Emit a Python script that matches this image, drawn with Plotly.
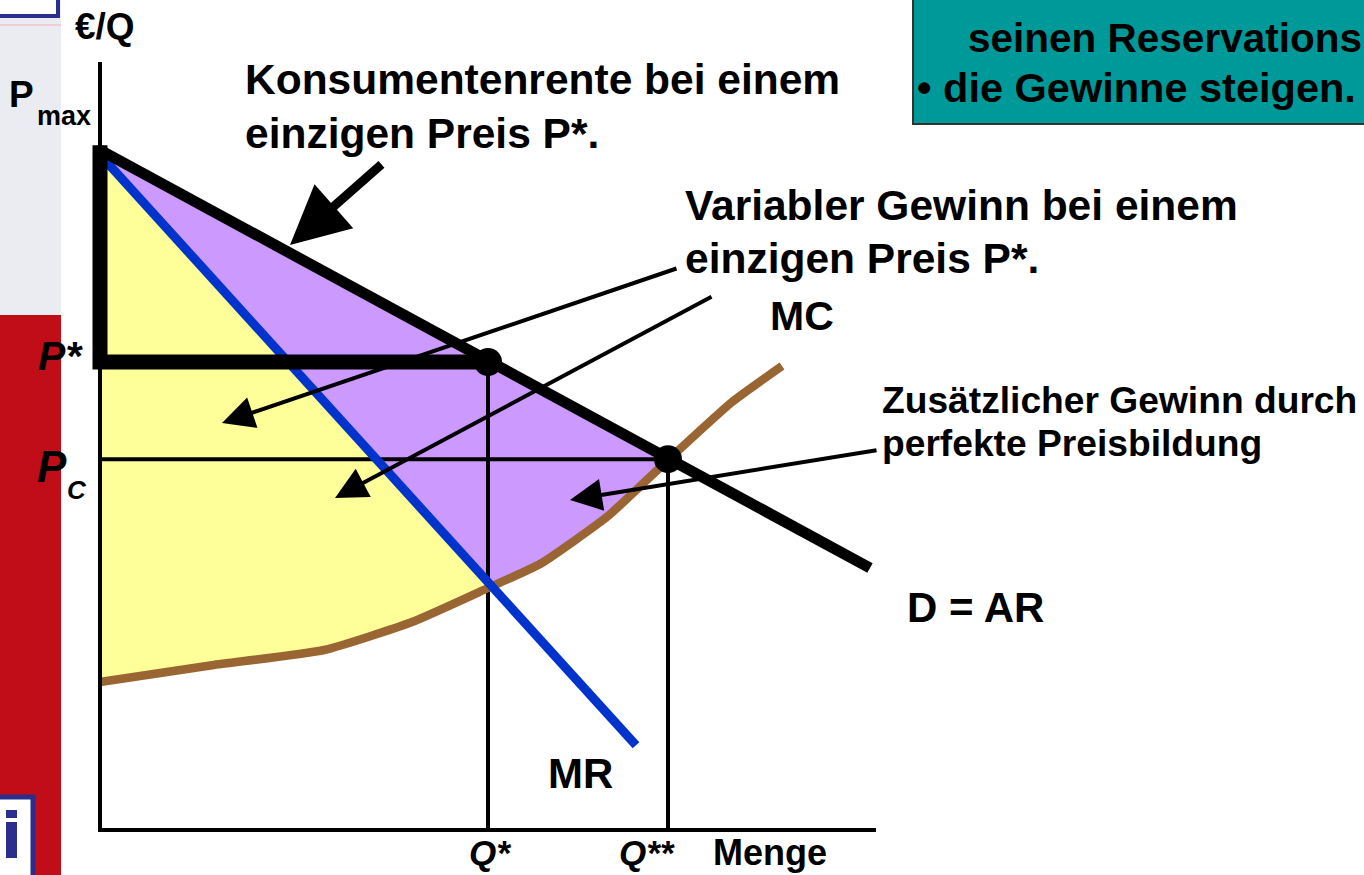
import numpy as np
import plotly.graph_objects as go

W, H = 1364, 875

# ---------------- data (economic units) ----------------
P_MAX = 17.0
DEMAND_Q = [0.0, 19.25]
DEMAND_P = [17.0, 6.55]
MR_Q = [0.12, 13.4]
MR_P = [16.75, 2.12]
MC_Q = [0.0, 2.8, 5.6, 7.8, 9.7, 11.0, 12.7, 14.2, 15.8, 17.05]
MC_P = [3.7, 4.12, 4.5, 5.2, 6.05, 6.65, 7.85, 9.25, 10.7, 11.6]
Q_STAR, P_STAR = 9.7, 11.7
Q_SS, P_C = 14.2, 9.27
AXIS_QMAX, AXIS_PMAX = 19.4, 19.2

PRICE_LABELS = ["P", "max", "<i>P*</i>", "<i>P</i>", "<i>C</i>"]
QTY_LABELS = ["<i>Q*</i>", "<i>Q**</i>", "Menge"]
AXIS_TITLE = "€/Q"
CURVE_LABELS = ["MC", "D = AR", "MR"]
NOTE_CS = ["Konsumentenrente bei einem", "einzigen Preis P*."]
NOTE_VG = ["Variabler Gewinn bei einem", "einzigen Preis P*."]
NOTE_ZG = ["Zusätzlicher Gewinn durch", "perfekte Preisbildung"]
BOX_LINES = ["seinen Reservations", "• die Gewinne steigen."]

FONT = "Arial, Liberation Sans, sans-serif"
YELLOW, PURPLE = "#FFFF99", "#CC99FF"
BLUE, BROWN = "#0033CC", "#996633"

# ---------------- geometry derived from data ----------------
q = np.linspace(MR_Q[0], MR_Q[1], 4000)
mr_line = np.interp(q, MR_Q, MR_P)
mc_line = np.interp(q, MC_Q, MC_P)
k = int(np.argmin(np.abs(mr_line - mc_line)))
q_int, p_int = q[k], mr_line[k]

mc_q = np.array(MC_Q)
mc_p = np.array(MC_P)
mid = (mc_q > q_int) & (mc_q < Q_SS)
low = mc_q < q_int

purple_x = [DEMAND_Q[0], Q_SS] + list(mc_q[mid][::-1]) + [q_int, MR_Q[0], DEMAND_Q[0]]
purple_y = [DEMAND_P[0], P_C] + list(mc_p[mid][::-1]) + [p_int, MR_P[0], DEMAND_P[0]]
yellow_x = [0, MR_Q[0], q_int] + list(mc_q[low][::-1]) + [0]
yellow_y = [MR_P[0], MR_P[0], p_int] + list(mc_p[low][::-1]) + [MR_P[0]]

fig = go.Figure()


def line(x, y, color, width, shape="linear", smoothing=None):
    ln = dict(color=color, width=width, shape=shape)
    if smoothing is not None:
        ln["smoothing"] = smoothing
    fig.add_trace(go.Scatter(x=x, y=y, mode="lines", hoverinfo="skip", line=ln))


fig.add_trace(go.Scatter(x=yellow_x, y=yellow_y, fill="toself", fillcolor=YELLOW,
                         mode="lines", line=dict(width=0), hoverinfo="skip"))
fig.add_trace(go.Scatter(x=purple_x, y=purple_y, fill="toself", fillcolor=PURPLE,
                         mode="lines", line=dict(width=0), hoverinfo="skip"))

# thin guide lines
line([0, Q_SS], [P_C, P_C], "black", 4)
line([Q_STAR, Q_STAR], [P_STAR, 0], "black", 4)
line([Q_SS, Q_SS], [P_C, 0], "black", 4)

# curves
line(MC_Q, MC_P, BROWN, 8.5, "spline", 0.5)
line(MR_Q, MR_P, BLUE, 9)
line(DEMAND_Q, DEMAND_P, "black", 11)

# thick outline of consumer surplus at single price
line([Q_STAR, 0, 0], [P_STAR, P_STAR, P_MAX + 0.12], "black", 15)

# axes
line([0, 0, AXIS_QMAX], [AXIS_PMAX, 0, 0], "black", 4)

# equilibrium points
fig.add_trace(go.Scatter(x=[Q_STAR, Q_SS], y=[P_STAR, P_C], mode="markers",
                         marker=dict(color="black", size=28), hoverinfo="skip"))


# ---------------- layout helpers ----------------
def px(x):
    return x / W


def py(y):
    return 1 - y / H


ann = []


def text(t, x, y, size, xanchor="left", color="black", bold=True):
    ann.append(dict(text=f"<b>{t}</b>" if bold else t, x=px(x), y=py(y), xref="paper", yref="paper",
                    xanchor=xanchor, yanchor="middle", showarrow=False,
                    font=dict(family=FONT, size=size, color=color)))


def arrow(tail, tip, width, size):
    ann.append(dict(x=px(tip[0]), y=py(tip[1]), xref="paper", yref="paper",
                    ax=tail[0] - tip[0], ay=tail[1] - tip[1], axref="pixel", ayref="pixel",
                    showarrow=True, arrowhead=2, arrowwidth=width, arrowsize=size,
                    arrowcolor="black", text=""))


shapes = []


def rect(x0, y0, x1, y1, fill, lc=None, lw=0):
    shapes.append(dict(type="rect", xref="paper", yref="paper", x0=px(x0), x1=px(x1),
                       y0=py(y1), y1=py(y0), fillcolor=fill, layer="below",
                       line=dict(color=lc or fill, width=lw)))


# background slide elements
rect(-5, -5, 61, 316, "#EBEBF2")
rect(-5, 315, 61, 880, "#C10D18")
rect(0, 24, 61, 26, "#F2CCD4")
rect(-6, -6, 58, 16, "white", "#2B2E8C", 4)
rect(-6, 797, 33, 885, "white", "#2B2E8C", 5)
rect(6, 810, 17, 818, "#2B2E8C")
rect(6, 822, 17, 858, "#2B2E8C")
rect(913, -6, 1370, 124, "#009999", "#333333", 2)

# texts
text(AXIS_TITLE, 73, 27, 37)
text(PRICE_LABELS[0], 7, 95, 37)
text(PRICE_LABELS[1], 35, 116, 27)
text(PRICE_LABELS[2], 36, 356, 41)
text(PRICE_LABELS[3], 35, 466, 44)
text(PRICE_LABELS[4], 65, 490, 26)
text(QTY_LABELS[0], 490, 852, 35, "center")
text(QTY_LABELS[1], 647, 852, 35, "center")
text(QTY_LABELS[2], 711, 852, 36)
text(NOTE_CS[0], 243, 80, 42.5)
text(NOTE_CS[1], 243, 133, 42.5)
text(NOTE_VG[0], 683, 205, 42.5)
text(NOTE_VG[1], 683, 258, 42.5)
text(NOTE_ZG[0], 880, 400, 37.2)
text(NOTE_ZG[1], 880, 443, 37.2)
text(CURVE_LABELS[0], 768, 316, 41)
text(CURVE_LABELS[1], 905, 607, 42)
text(CURVE_LABELS[2], 546, 773, 42)
text(BOX_LINES[0], 966, 38, 40.5)
text(BOX_LINES[1], 915, 88, 41.5)

# arrows
arrow((383, 163), (290, 245), 9, 1.3)
arrow((678, 268), (222, 423), 4, 1.6)
arrow((713, 296), (335, 498), 4, 1.6)
arrow((878, 450), (570, 500), 4, 1.6)

fig.update_layout(
    width=W, height=H, margin=dict(l=0, r=0, t=0, b=0),
    paper_bgcolor="white", plot_bgcolor="white", showlegend=False,
    xaxis=dict(range=[-2.5, 31.6], visible=False, fixedrange=True),
    yaxis=dict(range=[-1.125, 20.75], visible=False, fixedrange=True),
    annotations=ann, shapes=shapes,
)

fig.write_html("out.html", include_plotlyjs=True, config={"displayModeBar": False},
               post_script="document.body.style.margin='0';document.body.style.overflow='hidden';")
